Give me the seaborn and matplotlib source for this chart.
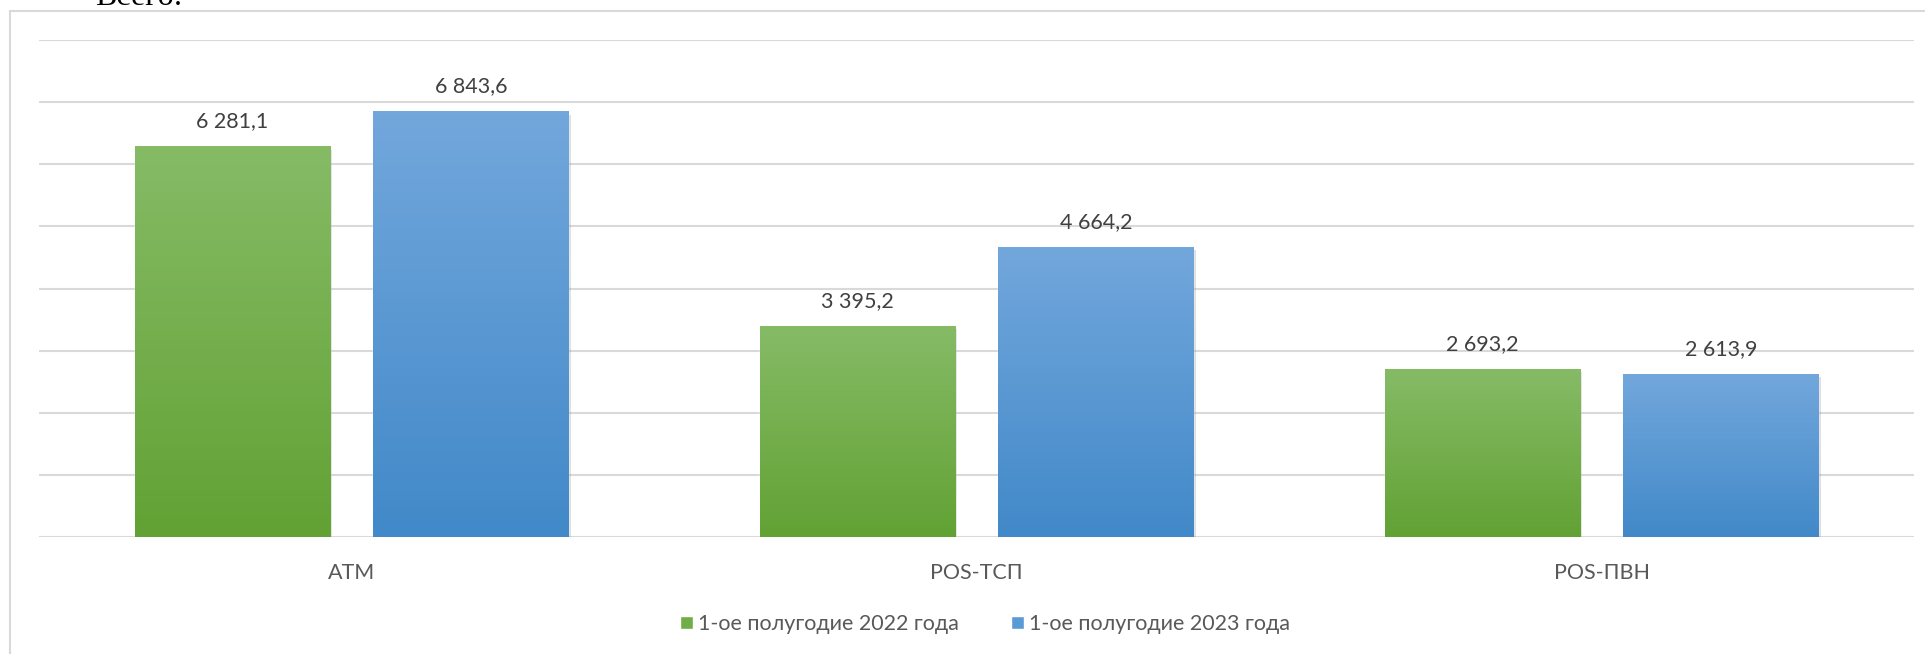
import numpy as np
import pandas as pd
import matplotlib
matplotlib.use("Agg")
import matplotlib.pyplot as plt
import matplotlib.patheffects as pe
from matplotlib.colors import LinearSegmentedColormap
from matplotlib.patches import Rectangle
import seaborn as sns

categories = ["ATM", "POS-ТСП", "POS-ПВН"]
series_names = ["1-ое полугодие 2022 года", "1-ое полугодие 2023 года"]
values_2022 = [6281.1, 3395.2, 2693.2]
values_2023 = [6843.6, 4664.2, 2613.9]
yticks = [0, 1000, 2000, 3000, 4000, 5000, 6000, 7000, 8000]

colors = {"1-ое полугодие 2022 года": "#70ad47", "1-ое полугодие 2023 года": "#5b9bd5"}
# top / bottom shades for the gradient fill
grad = {"#70ad47": ("#86bb66", "#62a234"), "#5b9bd5": ("#72a7dc", "#4289c9")}

df = pd.DataFrame({
    "cat": categories * 2,
    "period": [series_names[0]] * 3 + [series_names[1]] * 3,
    "value": values_2022 + values_2023,
})

sns.set_theme(style="white")
plt.rcParams["font.family"] = ["Lato", "DejaVu Sans"]

fig = plt.figure(figsize=(19.25, 6.54), dpi=100)
# outer chart frame
fig.patches.append(Rectangle((10 / 1925, -0.1), 1.2, 1 - 11 / 654 + 0.1, transform=fig.transFigure,
                             fill=False, edgecolor="#d9d9d9", linewidth=1.5))
fig.text(95 / 1925, 1 - 5 / 654, "Всего:", family="Liberation Serif", fontsize=23,
         color="black", va="baseline", ha="left")

ax = fig.add_axes([39 / 1925, 1 - 537 / 654, 1875 / 1925, 497 / 654])
sns.barplot(data=df, x="cat", y="value", hue="period", palette=colors,
            width=0.764, gap=0.183, ax=ax, saturation=1, zorder=3)

ax.set_yticks(yticks)
ax.yaxis.grid(True, color="#d9d9d9", linewidth=1.5, zorder=0)
ax.tick_params(axis="y", left=False, labelleft=False)
ax.tick_params(axis="x", bottom=False, labelsize=15.5, labelcolor="#595959", pad=13)
ax.set_xlabel("")
ax.set_ylabel("")
for s in ax.spines.values():
    s.set_visible(False)

# gradient fill and soft shadow on each bar
for p in ax.patches:
    if p.get_height() <= 0:
        continue
    c = matplotlib.colors.to_hex(p.get_facecolor())
    top, bot = grad.get(c, (c, c))
    cmap = LinearSegmentedColormap.from_list("g", [bot, top])
    x0, y0 = p.get_x(), p.get_y()
    w, h = p.get_width(), p.get_height()
    ax.imshow(np.linspace(0, 1, 100).reshape(-1, 1), cmap=cmap, aspect="auto",
              extent=(x0, x0 + w, y0, y0 + h), origin="lower", zorder=3.5,
              clip_path=p, clip_on=True)
    p.set_path_effects([pe.SimplePatchShadow(offset=(2, -2), alpha=0.25, shadow_rgbFace="#808080"),
                        pe.Normal()])
ax.set_xlim(-0.5, 2.5)
ax.set_ylim(0, 8000)

for cont in ax.containers:
    labels = [f"{v:,.1f}".replace(",", " ").replace(".", ",") for v in cont.datavalues]
    ax.bar_label(cont, labels=labels, padding=11, fontsize=15.5, color="#404040", zorder=5)

sns.move_legend(ax, "center", bbox_to_anchor=(0.5045, -0.175), ncol=2, frameon=False,
                title=None, fontsize=15.5, handlelength=0.6, handleheight=0.6,
                handletextpad=0.25, columnspacing=2.4)
for t in ax.get_legend().get_texts():
    t.set_color("#595959")

fig.savefig("out.png", dpi=100)
